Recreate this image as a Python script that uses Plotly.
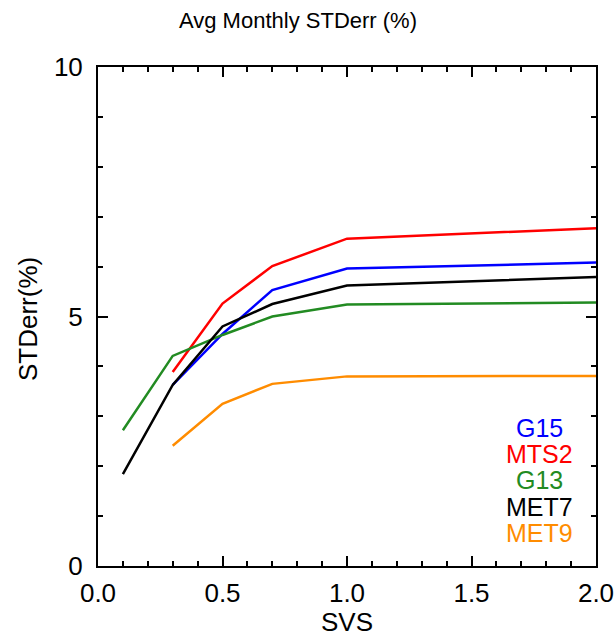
import plotly.graph_objects as go

# Data
svs_full = [0.1, 0.3, 0.5, 0.7, 1.0, 2.0]
svs_part = [0.3, 0.5, 0.7, 1.0, 2.0]

g15 = [3.63, 4.65, 5.53, 5.96, 6.08]
mts2 = [3.89, 5.26, 6.01, 6.56, 6.77]
g13 = [2.72, 4.21, 4.63, 5.00, 5.24, 5.28]
met7 = [1.84, 3.63, 4.80, 5.25, 5.62, 5.79]
met9 = [2.41, 3.25, 3.65, 3.80, 3.81]

series_names = ["G15", "MTS2", "G13", "MET7", "MET9"]
series_x = [svs_part, svs_part, svs_full, svs_full, svs_part]
series_y = [g15, mts2, g13, met7, met9]
series_colors = ["#0000ff", "#ff0000", "#228b22", "#000000", "#ff8c00"]

title_text = "Avg Monthly STDerr (%)"
x_title = "SVS"
y_title = "STDerr(%)"

FONT = "Liberation Sans, Arial, Helvetica, sans-serif"

fig = go.Figure()
for name, xs, ys, col in zip(series_names, series_x, series_y, series_colors):
    fig.add_trace(go.Scatter(x=xs, y=ys, mode="lines", name=name,
                             line=dict(color=col, width=2.5), showlegend=False))

# legend as coloured text
leg_y = [0.2766, 0.2244, 0.172, 0.119, 0.067]
for name, col, yy in zip(series_names, series_colors, leg_y):
    fig.add_annotation(text=name, x=0.886, y=yy, xref="paper", yref="paper",
                       xanchor="center", yanchor="middle", showarrow=False,
                       height=22, valign="middle",
                       font=dict(family=FONT, size=25, color=col))

# titles
fig.add_annotation(text=title_text, x=(298 - 98) / 498, y=(566 - 20) / 499,
                   xref="paper", yref="paper", xanchor="center", yanchor="middle",
                   showarrow=False, font=dict(family=FONT, size=22, color="black"))
fig.add_annotation(text=x_title, x=0.5, y=(566 - 622) / 499,
                   xref="paper", yref="paper", xanchor="center", yanchor="middle",
                   showarrow=False, font=dict(family=FONT, size=26, color="black"))
fig.add_annotation(text=y_title, x=(28 - 98) / 498, y=(566 - 319) / 499,
                   xref="paper", yref="paper", xanchor="center", yanchor="middle",
                   textangle=-90, showarrow=False,
                   font=dict(family=FONT, size=26, color="black"))

axis_common = dict(showgrid=False, zeroline=False, showline=True, linecolor="black",
                   linewidth=2, mirror="allticks", ticks="inside", tickcolor="black",
                   tickwidth=2, ticklen=10, automargin=False,
                   tickfont=dict(family=FONT, size=26, color="black"))

fig.update_xaxes(range=[0, 2.0], tick0=0, dtick=0.5, tickformat=".1f",
                 minor=dict(dtick=0.1, ticks="inside", ticklen=5, tickwidth=2,
                            tickcolor="black", showgrid=False),
                 ticklabelstandoff=3, **axis_common)
fig.update_yaxes(range=[0, 10], tick0=0, dtick=5,
                 minor=dict(dtick=1, ticks="inside", ticklen=5, tickwidth=2,
                            tickcolor="black", showgrid=False),
                 ticklabelstandoff=8, **axis_common)

fig.update_layout(width=616, height=638, margin=dict(l=98, r=20, t=67, b=72),
                  paper_bgcolor="white", plot_bgcolor="white",
                  font=dict(family=FONT, color="black"))

fig.write_html("out.html")
